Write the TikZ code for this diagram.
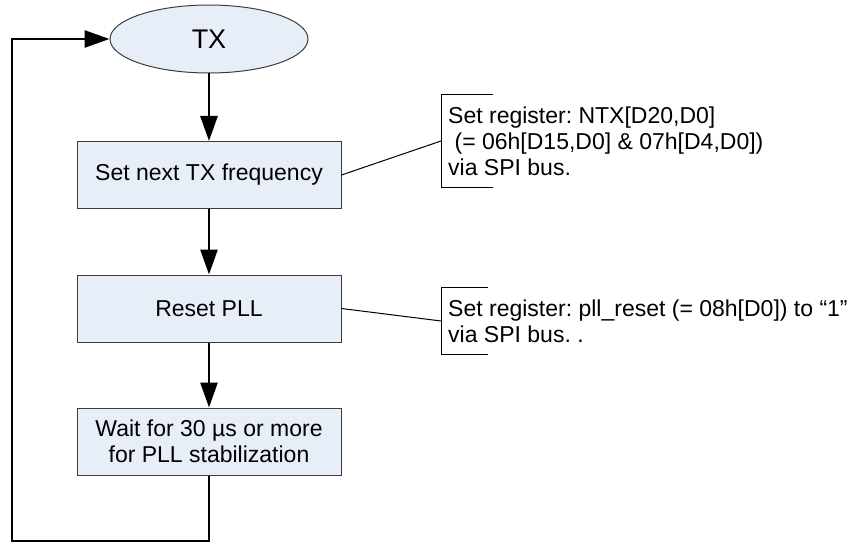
\documentclass[tikz,border=0pt]{standalone}
\usepackage{fontspec}
\setmainfont{Liberation Sans}
\frenchspacing
\usetikzlibrary{shapes,arrows.meta,positioning,calc}
\definecolor{stepfill}{RGB}{232,238,248}
\definecolor{stepline}{RGB}{60,60,60}

\begin{document}
\begin{tikzpicture}[x=1pt, y=-1pt,
    stepbox/.style={draw=stepline, line width=1pt, fill=stepfill, minimum width=264pt, minimum height=67pt, inner sep=0pt, align=center, font=\fontsize{23}{26.5}\selectfont},
    term/.style={draw=stepline, line width=1pt, fill=stepfill, ellipse, minimum width=198pt, minimum height=68pt, inner sep=0pt, font=\fontsize{27}{30}\selectfont},
    note/.style={align=left, inner xsep=7pt, inner ysep=12pt, font=\fontsize{23}{26}\selectfont},
    flow/.style={line width=2.8pt, -{Triangle[length=25pt,width=17pt]}},
    link/.style={line width=1pt}]
  \useasboundingbox (0,0) rectangle (863,543);

  \node[term] (tx) at (209,39) {TX};
  \node[stepbox] (setfreq) at (209,175) {Set next TX frequency};
  \node[stepbox] (resetpll) at (209,308.5) {Reset PLL};
  \node[stepbox] (waitpll) at (209,441.5) {Wait for 30 µs or more\\for PLL stabilization};
  \coordinate (loopbot) at (12,541);

  \draw[flow] (tx) -- (setfreq);
  \draw[flow] (setfreq) -- (resetpll);
  \draw[flow] (resetpll) -- (waitpll);
  \draw[flow] (waitpll.south) |- (loopbot) |- (tx.west);

  % register notes
  \node[note, anchor=west] (ntxnote) at (441,141) {Set register: NTX[D20,D0]\\\hspace*{0.28em}(= 06h[D15,D0] \& 07h[D4,D0])\\via SPI bus.};
  \node[note, anchor=west] (pllnote) at (441,321) {Set register: pll\_reset (= 08h[D0]) to “1”\\via SPI bus. .};
  \draw[link] ($(ntxnote.north west)+(52,0)$) -- (ntxnote.north west) -- (ntxnote.south west) -- ++(52,0);
  \draw[link] ($(pllnote.north west)+(47,0)$) -- (pllnote.north west) -- (pllnote.south west) -- ++(47,0);
  \draw[link] (setfreq.east) -- (ntxnote.west);
  \draw[link] (resetpll.east) -- (pllnote.west);
\end{tikzpicture}
\end{document}
